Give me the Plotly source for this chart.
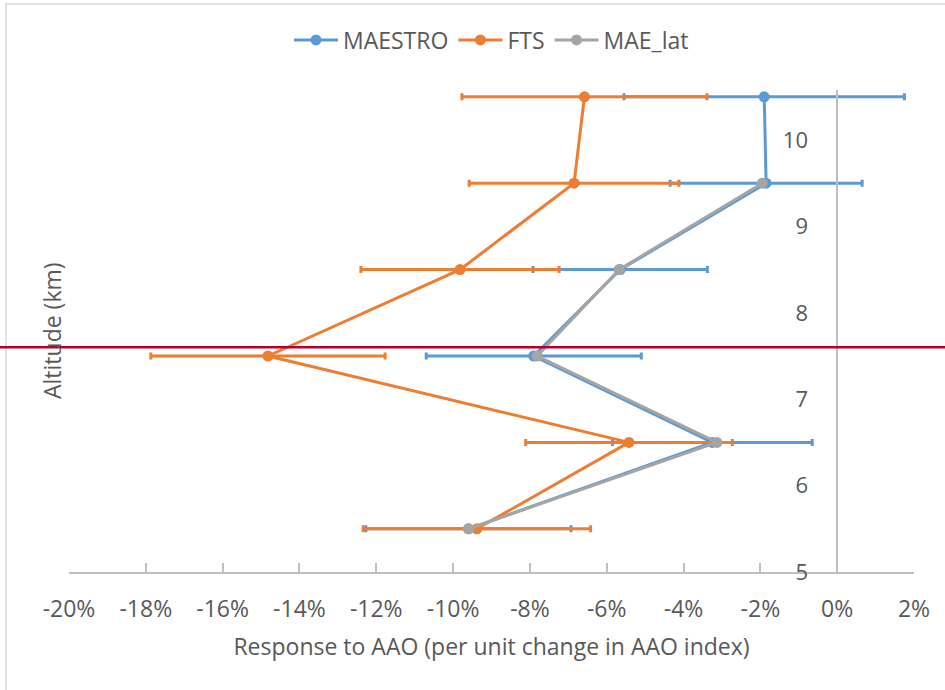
import plotly.graph_objects as go

# ---- data (percent) ----
altitude = [10.5, 9.5, 8.5, 7.5, 6.5, 5.5]
maestro = [-1.9, -1.85, -5.65, -7.9, -3.25, -9.6]
maestro_err = [3.65, 2.5, 2.27, 2.8, 2.6, 2.67]
fts = [-6.58, -6.85, -9.82, -14.82, -5.42, -9.38]
fts_err = [3.19, 2.73, 2.58, 3.05, 2.69, 2.96]
mae_lat_alt = [9.5, 8.5, 7.5, 6.5, 5.5]
mae_lat = [-1.95, -5.68, -7.81, -3.13, -9.6]
tropopause = 7.6

x_ticks = [-20, -18, -16, -14, -12, -10, -8, -6, -4, -2, 0, 2]
x_tick_text = ["-20%", "-18%", "-16%", "-14%", "-12%", "-10%", "-8%", "-6%", "-4%", "-2%", "0%", "2%"]
y_ticks = [5, 6, 7, 8, 9, 10]

BLUE = "#5B9BD5"
ORANGE = "#ED7D31"
GRAY = "#A5A5A5"
TXT = "#595959"
FONT = "Open Sans"
FS = 23

fig = go.Figure()
fig.add_trace(go.Scatter(
    x=maestro, y=altitude, name="MAESTRO", mode="lines+markers",
    line=dict(color=BLUE, width=3), marker=dict(color=BLUE, size=11),
    error_x=dict(type="data", array=maestro_err, color=BLUE, thickness=3, width=3.5),
))
fig.add_trace(go.Scatter(
    x=fts, y=altitude, name="FTS", mode="lines+markers",
    line=dict(color=ORANGE, width=3), marker=dict(color=ORANGE, size=11),
    error_x=dict(type="data", array=fts_err, color=ORANGE, thickness=3, width=3.5),
))
fig.add_trace(go.Scatter(
    x=mae_lat, y=mae_lat_alt, name="MAE_lat", mode="lines+markers",
    line=dict(color=GRAY, width=3), marker=dict(color=GRAY, size=11),
))

W, H = 945, 690
L, R, T, B = 69, 31, 90, 118
pw, ph = W - L - R, H - T - B
xmin, xmax = -20, 2
zero_pos = (0 - xmin) / (xmax - xmin)

def px_x(p):
    return (p - L) / pw

def px_y(p):
    return 1 - (p - T) / ph

fig.update_layout(
    width=W, height=H,
    margin=dict(l=L, r=R, t=T, b=B),
    paper_bgcolor="white", plot_bgcolor="white",
    font=dict(family=FONT, color=TXT, size=FS),
    showlegend=True,
    legend=dict(orientation="h", x=0.5, xanchor="center", y=px_y(40), yanchor="middle",
                font=dict(size=FS, color=TXT), itemwidth=44, bgcolor="rgba(0,0,0,0)"),
    xaxis=dict(range=[xmin, xmax], tickvals=x_ticks, ticktext=x_tick_text,
               showgrid=False, zeroline=False, showline=True, linecolor="#BFBFBF", linewidth=1.5,
               ticks="inside", ticklen=9, tickcolor="#BFBFBF", tickwidth=1.5,
               ticklabelstandoff=16, tickfont=dict(size=FS, color=TXT),
               title=dict(text="Response to AAO (per unit change in AAO index)",
                          font=dict(size=FS, color=TXT), standoff=16)),
    yaxis=dict(range=[5, 5 + ph / 86.4], tickvals=y_ticks, anchor="free", position=zero_pos,
               showgrid=False, zeroline=False, showline=True, linecolor="#BFBFBF", linewidth=1.5,
               ticks="", ticklabelstandoff=24, tickfont=dict(size=22, color=TXT)),
    shapes=[
        dict(type="line", xref="paper", yref="y", x0=px_x(0), x1=px_x(W), y0=tropopause, y1=tropopause,
             line=dict(color="#B5002B", width=2.5), layer="above"),
        dict(type="rect", xref="paper", yref="paper", x0=px_x(6), x1=px_x(W + 20), y0=px_y(4), y1=px_y(H + 20),
             line=dict(color="#D9D9D9", width=1.5), fillcolor="rgba(0,0,0,0)", layer="below"),
    ],
    annotations=[
        dict(text="Altitude (km)", xref="paper", yref="paper", x=px_x(52), y=0.5, textangle=-90,
             showarrow=False, font=dict(size=FS, color=TXT), xanchor="center", yanchor="middle"),
    ],
)

fig.write_html("out.html")
